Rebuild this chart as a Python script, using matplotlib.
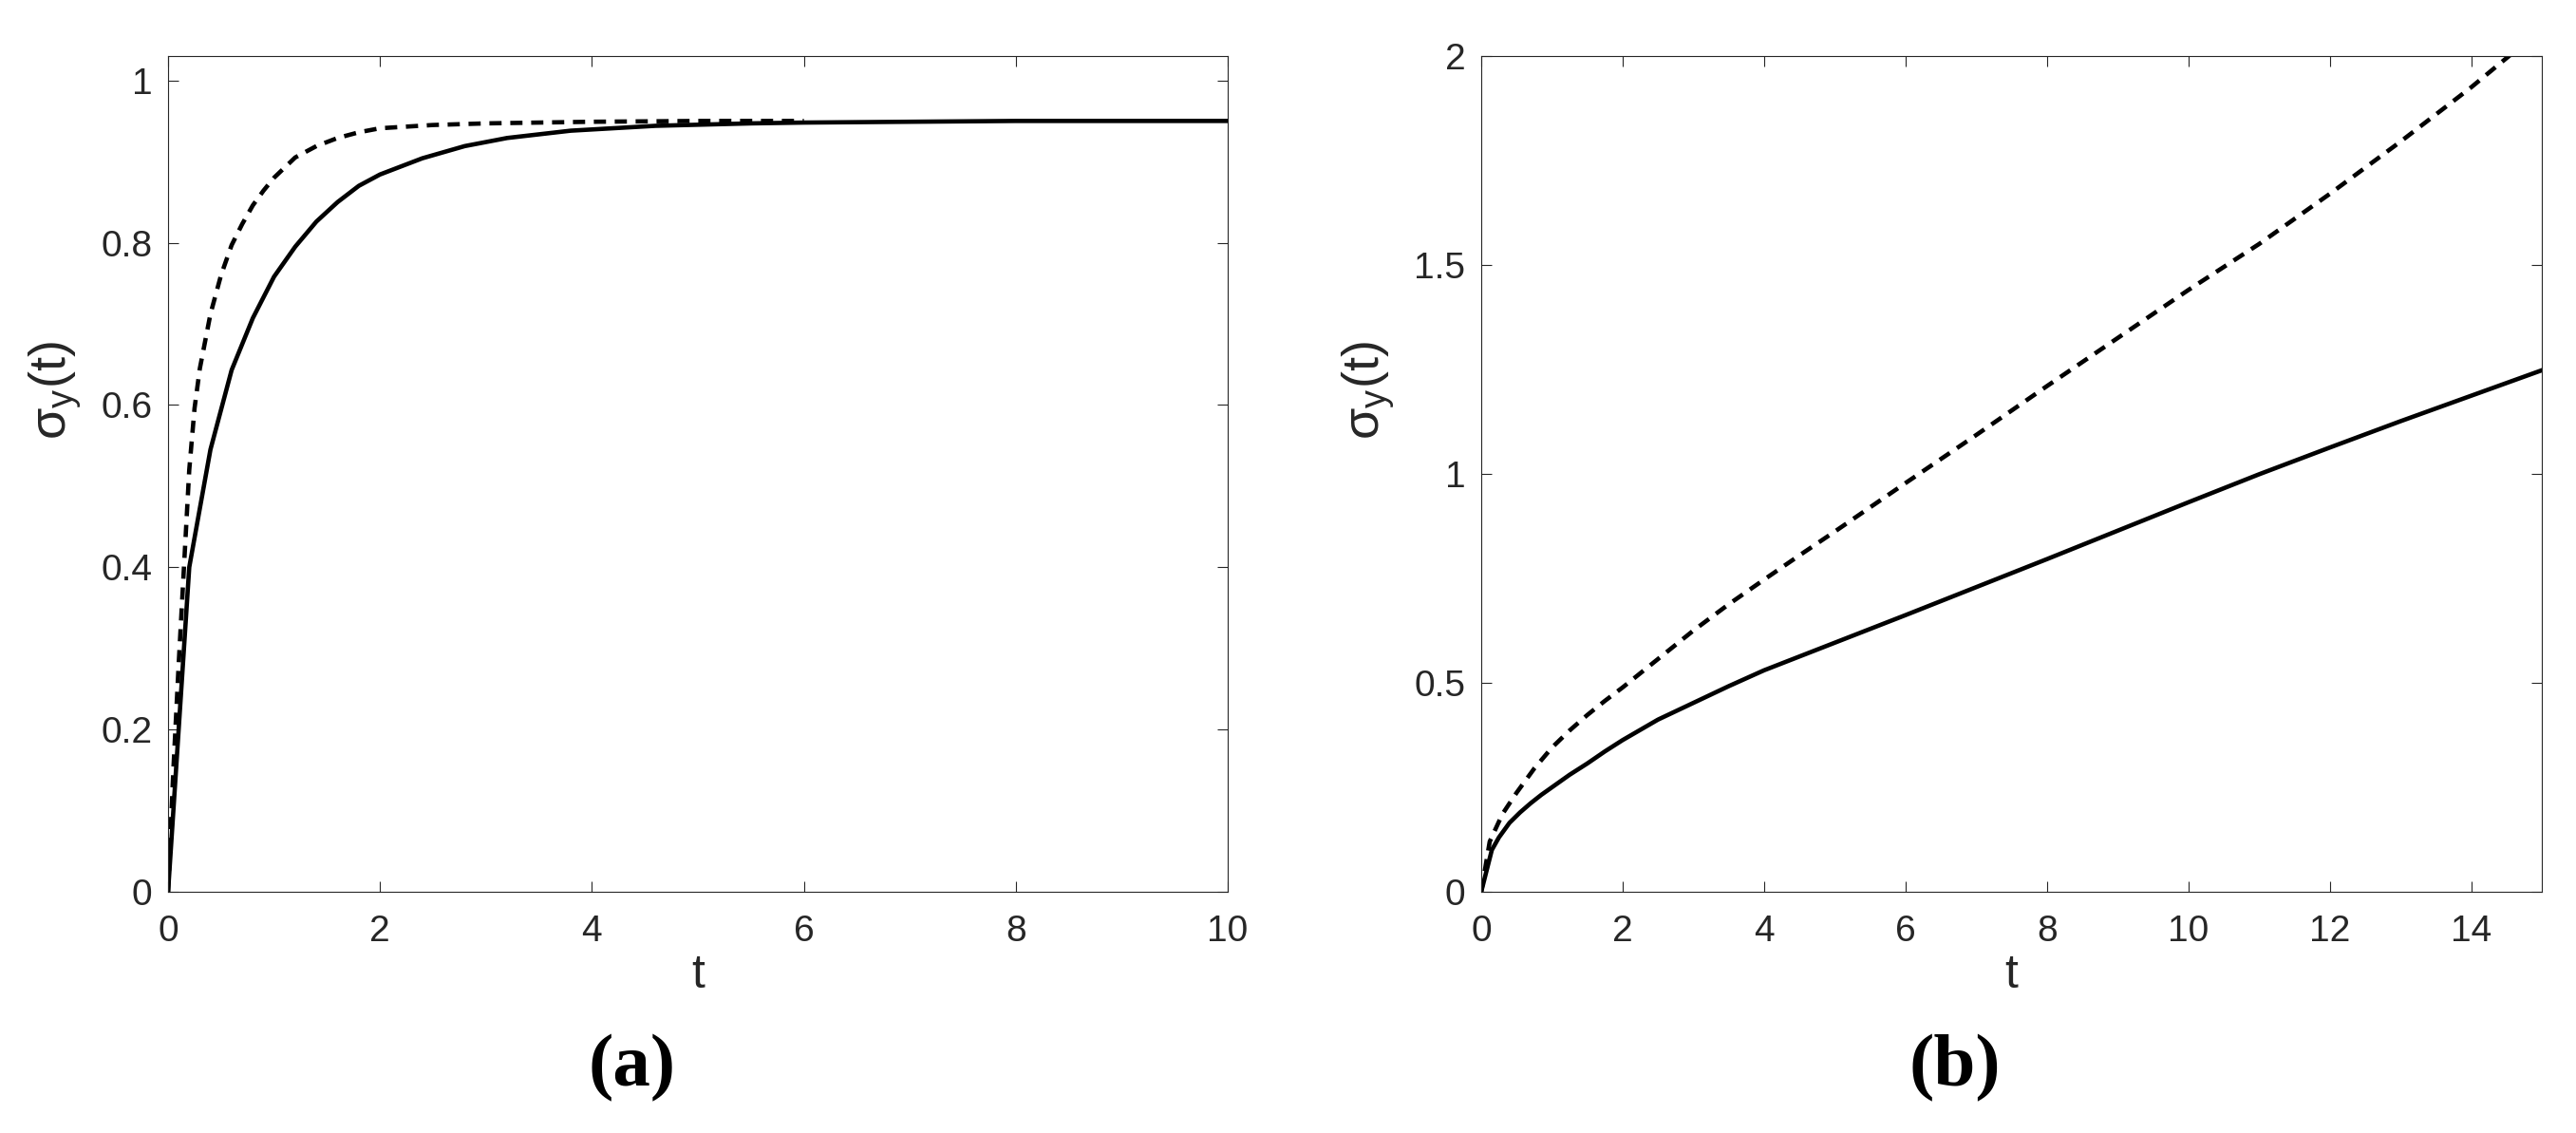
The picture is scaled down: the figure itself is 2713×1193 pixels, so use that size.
import numpy as np
import matplotlib
matplotlib.use("Agg")
import matplotlib.pyplot as plt

# (a) 왼쪽 패널 - 값은 그림에서 읽음
t_a_solid = [0, 0.2, 0.4, 0.6, 0.8, 1.0, 1.2, 1.4, 1.6, 1.8, 2.0, 2.4, 2.8, 3.2,
             3.8, 4.6, 5.5, 6.0, 7.0, 8.0, 10.0]
s_a_solid = [0, 0.40, 0.545, 0.643, 0.707, 0.758, 0.795, 0.826, 0.850, 0.870, 0.884,
             0.904, 0.919, 0.929, 0.938, 0.944, 0.947, 0.948, 0.949, 0.95, 0.95]

t_a_dash = [0, 0.05, 0.1, 0.15, 0.2, 0.25, 0.3, 0.4, 0.5, 0.6, 0.7, 0.8, 0.9, 1.0,
            1.2, 1.4, 1.6, 1.8, 2.0, 2.5, 3.0, 4.0, 5.0, 6.0]
s_a_dash = [0, 0.15, 0.28, 0.40, 0.52, 0.596, 0.645, 0.712, 0.760, 0.797, 0.823,
            0.846, 0.864, 0.880, 0.905, 0.919, 0.929, 0.936, 0.941, 0.945, 0.947,
            0.949, 0.95, 0.95]

# (b) 오른쪽 패널
t_b_solid = [0, 0.15, 0.25, 0.4, 0.55, 0.7, 0.85, 1.0, 1.25, 1.5, 1.75, 2.0, 2.5,
             3.0, 3.5, 4.0, 4.5, 5.0, 6.0, 7.0, 8.0, 9.0, 10.0, 11.0, 12.0, 13.0,
             14.0, 15.0]
s_b_solid = [0, 0.10, 0.13, 0.165, 0.19, 0.212, 0.232, 0.25, 0.28, 0.307, 0.336,
             0.363, 0.412, 0.452, 0.492, 0.530, 0.563, 0.596, 0.662, 0.729, 0.796,
             0.864, 0.932, 0.999, 1.063, 1.126, 1.187, 1.248]

t_b_dash = [0, 0.12, 0.3, 0.5, 0.75, 1.0, 1.25, 1.5, 1.75, 2.0, 2.5, 3.0, 3.5, 4.0,
            4.5, 5.0, 5.5, 6.0, 7.0, 8.0, 9.0, 10.0, 11.0, 12.0, 13.0, 14.0, 14.5,
            15.0]
s_b_dash = [0, 0.12, 0.186, 0.237, 0.295, 0.345, 0.386, 0.423, 0.457, 0.489, 0.557,
            0.625, 0.688, 0.747, 0.805, 0.862, 0.92, 0.978, 1.093, 1.21, 1.325, 1.44,
            1.55, 1.67, 1.795, 1.925, 1.995, 2.065]

xticks_a = [0, 2, 4, 6, 8, 10]
yticks_a = [0, 0.2, 0.4, 0.6, 0.8, 1.0]
yticklabels_a = ["0", "0.2", "0.4", "0.6", "0.8", "1"]
xticks_b = [0, 2, 4, 6, 8, 10, 12, 14]
yticks_b = [0, 0.5, 1.0, 1.5, 2.0]
yticklabels_b = ["0", "0.5", "1", "1.5", "2"]

plt.rcParams["font.family"] = ["Liberation Sans", "DejaVu Sans"]
plt.rcParams["mathtext.default"] = "regular"

GRAY = "#262626"
W, H = 2713, 1193


def style_axes(ax):
    ax.tick_params(direction="in", length=8, width=0.8, top=True, right=True,
                   labelsize=28, colors=GRAY, labelcolor=GRAY)
    ax.tick_params(axis="x", pad=17)
    ax.tick_params(axis="y", pad=12)
    for sp in ax.spines.values():
        sp.set_linewidth(0.8)
        sp.set_color(GRAY)
    ax.set_xlabel("t", fontsize=36, color=GRAY, labelpad=4)
    ax.set_ylabel(r"$\sigma_y$(t)", fontsize=39, color=GRAY)
    ax.yaxis.set_label_coords(-0.080, 0.60)


def draw(ax, t_s, s_s, t_d, s_d):
    ax.plot(t_d, s_d, color="black", lw=3.3, linestyle=(0, (2.8, 2.0)))
    ax.plot(t_s, s_s, color="black", lw=3.3)


fig = plt.figure(figsize=(W / 100, H / 100), dpi=100)
ax1 = fig.add_axes([177 / W, 1 - 939 / H, 1116 / W, 880 / H])
ax2 = fig.add_axes([1560 / W, 1 - 939 / H, 1117 / W, 880 / H])

draw(ax1, t_a_solid, s_a_solid, t_a_dash, s_a_dash)
ax1.set_xlim(0, 10)
ax1.set_ylim(0, 1.03)
ax1.set_xticks(xticks_a)
ax1.set_yticks(yticks_a)
ax1.set_yticklabels(yticklabels_a)
style_axes(ax1)

draw(ax2, t_b_solid, s_b_solid, t_b_dash, s_b_dash)
ax2.set_xlim(0, 15)
ax2.set_ylim(0, 2)
ax2.set_xticks(xticks_b)
ax2.set_yticks(yticks_b)
ax2.set_yticklabels(yticklabels_b)
style_axes(ax2)

for x, lab in [(666 / W, "(a)"), (2059 / W, "(b)")]:
    fig.text(x, 1 - 1125 / H, lab, ha="center", va="center", fontsize=57,
             fontweight="bold", family=["Liberation Serif", "DejaVu Serif"])

fig.savefig("out.png", dpi=100)
